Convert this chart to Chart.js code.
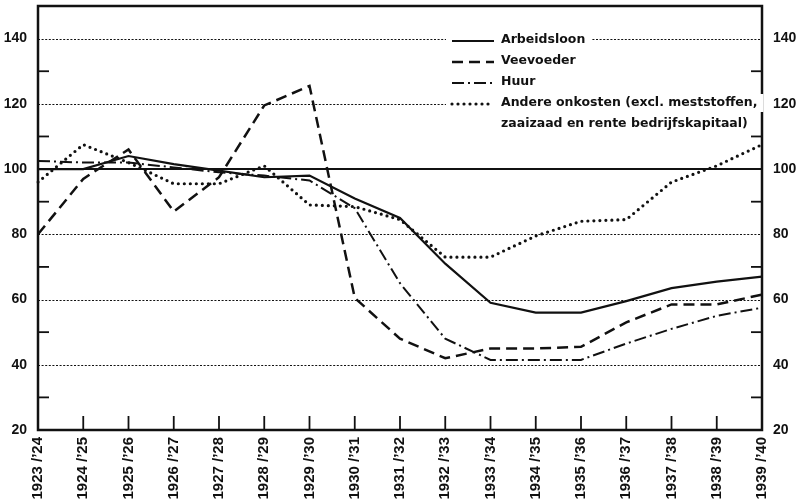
<!DOCTYPE html>
<html>
<head>
<meta charset="utf-8">
<script src="https://cdn.jsdelivr.net/npm/chart.js@4"></script>
<style>
  body { margin: 0; background: #fff; }
  #wrap { width: 797px; height: 501px; }
</style>
</head>
<body>
<div id="wrap"><canvas id="costChart" width="797" height="501"></canvas></div>
<script>
// ======= Data =======
const seasons = [
  "1923 /\u201924", "1924 /\u201925", "1925 /\u201926", "1926 /\u201927", "1927 /\u201928",
  "1928 /\u201929", "1929 /\u201930", "1930 /\u201931", "1931 /\u201932", "1932 /\u201933",
  "1933 /\u201934", "1934 /\u201935", "1935 /\u201936", "1936 /\u201937", "1937 /\u201938",
  "1938 /\u201939", "1939 /\u201940"
];
const arbeidsloon = [100, 100, 104, 101.5, 99.5, 97.5, 98, 91, 85, 71, 59, 56, 56, 59.5, 63.5, 65.5, 67];
const veevoeder = [80, 97, 106, 87, 97.5, 119.5, 125.5, 60.5, 48, 42, 45, 45, 45.5, 53, 58.5, 58.5, 61.5];
const huur = [102.5, 102, 102, 100.5, 99, 98, 96.5, 88, 65, 48, 41.5, 41.5, 41.5, 46.5, 51, 55, 57.5];
const andereOnkosten = [96, 107.5, 102, 95.5, 95.5, 101, 89, 88.5, 84.5, 73, 73, 79.5, 84, 84.5, 96, 101, 107.5];

const legendLabels = [
  ["Arbeidsloon"],
  ["Veevoeder"],
  ["Huur"],
  ["Andere onkosten (excl. meststoffen,", "zaaizaad en rente bedrijfskapitaal)"]
];
const dottedGridValues = [40, 60, 80, 120, 140];
const solidGridValues = [100];
const minorTickValues = [30, 50, 70, 90, 110, 130];

const INK = "#111";
const tickFont = { family: "'Liberation Sans', Arial, sans-serif", size: 14, weight: "bold" };
const xTickFont = { family: "'Liberation Sans', Arial, sans-serif", size: 15, weight: "bold" };

// ======= Frame, grid and tick marks =======
const framePlugin = {
  id: "frame",
  beforeDatasetsDraw(chart) {
    const { ctx, chartArea: a, scales } = chart;
    const y = scales.y, x = scales.x;
    ctx.save();
    ctx.strokeStyle = INK;
    // dotted grid
    ctx.lineWidth = 1.2;
    ctx.setLineDash([2, 1.6]);
    dottedGridValues.forEach(v => {
      const py = Math.round(y.getPixelForValue(v)) + 0.5;
      ctx.beginPath(); ctx.moveTo(a.left, py); ctx.lineTo(a.right, py); ctx.stroke();
    });
    ctx.setLineDash([]);
    // solid 100 line
    ctx.lineWidth = 2;
    solidGridValues.forEach(v => {
      const py = y.getPixelForValue(v);
      ctx.beginPath(); ctx.moveTo(a.left, py); ctx.lineTo(a.right, py); ctx.stroke();
    });
    // minor ticks on both sides
    ctx.lineWidth = 1.8;
    minorTickValues.forEach(v => {
      const py = y.getPixelForValue(v);
      ctx.beginPath(); ctx.moveTo(a.left, py); ctx.lineTo(a.left + 11, py); ctx.stroke();
      ctx.beginPath(); ctx.moveTo(a.right - 11, py); ctx.lineTo(a.right, py); ctx.stroke();
    });
    // category ticks along bottom
    seasons.forEach((s, i) => {
      const px = x.getPixelForValue(i);
      ctx.beginPath(); ctx.moveTo(px, a.bottom); ctx.lineTo(px, a.bottom - 14); ctx.stroke();
    });
    // frame
    ctx.lineWidth = 2.5;
    ctx.strokeRect(a.left, a.top, a.right - a.left, a.bottom - a.top);
    ctx.restore();
  }
};

// ======= Legend =======
const legendPlugin = {
  id: "customLegend",
  afterDatasetsDraw(chart) {
    const ctx = chart.ctx;
    const rowY = [40, 61, 82, 103];
    const lineGap = 21;
    ctx.save();
    ctx.font = "bold 12.5px 'DejaVu Sans', sans-serif";
    ctx.textBaseline = "middle";
    chart.data.datasets.forEach((ds, i) => {
      const lines = legendLabels[i];
      lines.forEach((t, j) => {
        const yy = rowY[i] + j * lineGap;
        const w = ctx.measureText(t).width;
        ctx.fillStyle = "#fff";
        ctx.fillRect(446, yy - 9, 501 - 446 + w + 6, 18);
        ctx.fillStyle = INK;
        ctx.fillText(t, 501, yy);
      });
      ctx.strokeStyle = INK;
      ctx.lineWidth = ds.borderWidth;
      ctx.lineCap = ds.borderCapStyle || "butt";
      ctx.setLineDash(ds.borderDash || []);
      ctx.beginPath(); ctx.moveTo(452, rowY[i] + 1); ctx.lineTo(494, rowY[i] + 1); ctx.stroke();
    });
    ctx.restore();
  }
};

// ======= Chart =======
document.addEventListener("DOMContentLoaded", function () {
  const ctx = document.getElementById("costChart").getContext("2d");

  new Chart(ctx, {
    type: "line",
    data: {
      labels: seasons,
      datasets: [
        { label: "Arbeidsloon", data: arbeidsloon, borderColor: INK, borderWidth: 2.2, borderDash: [] },
        { label: "Veevoeder", data: veevoeder, borderColor: INK, borderWidth: 2.5, borderDash: [11, 6] },
        { label: "Huur", data: huur, borderColor: INK, borderWidth: 2, borderDash: [12, 4, 2, 4] },
        { label: "Andere onkosten", data: andereOnkosten, borderColor: INK, borderWidth: 3.2,
          borderDash: [0, 6], borderCapStyle: "round" }
      ]
    },
    options: {
      responsive: false,
      animation: false,
      layout: { padding: { top: 6, left: 0, right: 0, bottom: 0 } },
      elements: { point: { radius: 0 }, line: { tension: 0, fill: false } },
      plugins: { legend: { display: false }, tooltip: { enabled: false } },
      scales: {
        x: {
          grid: { display: false, drawTicks: false },
          border: { display: false },
          ticks: { color: INK, font: xTickFont, maxRotation: 90, minRotation: 90, padding: 7, autoSkip: false },
          afterFit(scale) { scale.height = 71; scale.paddingLeft = 0; scale.paddingRight = 0; }
        },
        y: {
          position: "left",
          min: 20, max: 150,
          grid: { display: false, drawTicks: false },
          border: { display: false },
          ticks: { stepSize: 10, color: INK, font: tickFont, padding: 11,
            callback: v => (v % 20 === 0 && v <= 140 ? v : "") },
          afterFit(scale) { scale.width = 38; scale.paddingTop = 0; scale.paddingBottom = 0; }
        },
        y2: {
          position: "right",
          min: 20, max: 150,
          grid: { display: false, drawTicks: false },
          border: { display: false },
          ticks: { stepSize: 10, color: INK, font: tickFont, padding: 11,
            callback: v => (v % 20 === 0 && v <= 140 ? v : "") },
          afterFit(scale) { scale.width = 35; scale.paddingTop = 0; scale.paddingBottom = 0; }
        }
      }
    },
    plugins: [framePlugin, legendPlugin]
  });
});
</script>
</body>
</html>
